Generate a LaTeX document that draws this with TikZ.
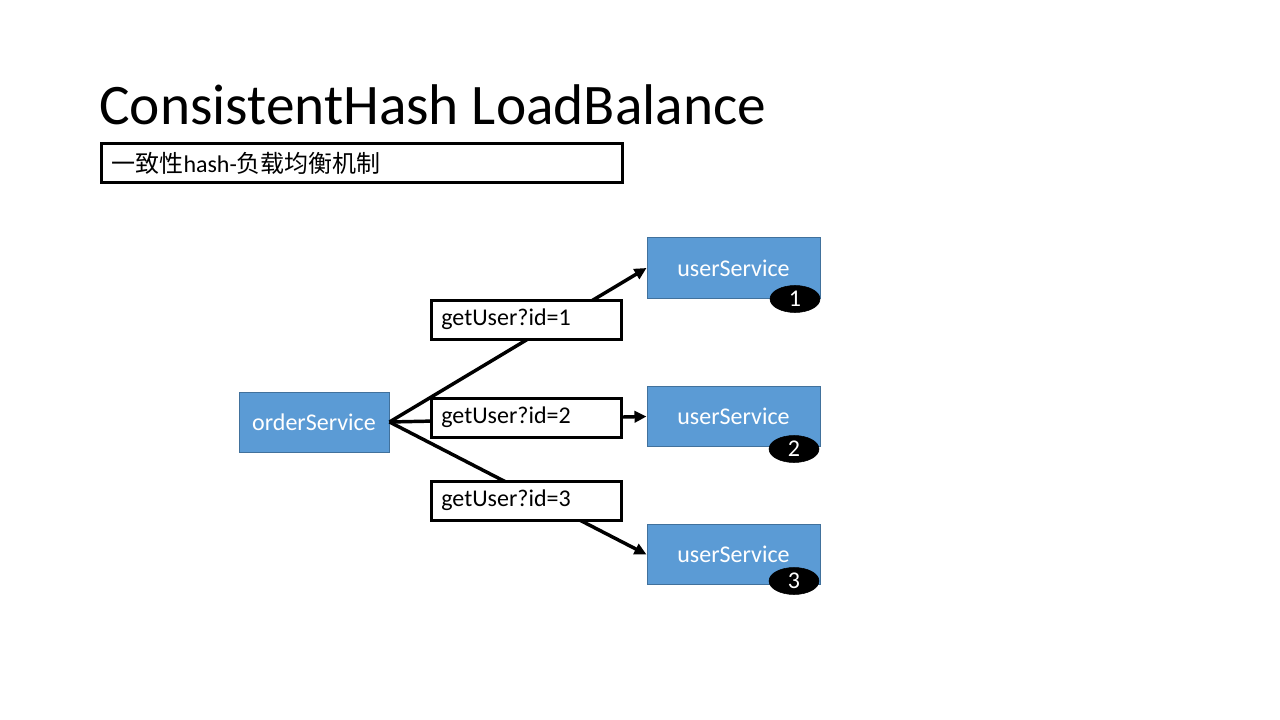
\documentclass[tikz,border=0pt]{standalone}
\usepackage{fontspec}
\setmainfont{Carlito}
\newfontfamily\cjk{Noto Sans CJK SC}
\usetikzlibrary{arrows.meta,shapes.geometric}
\definecolor{svcblue}{HTML}{5B9BD5}
\definecolor{svcedge}{HTML}{41719C}
\begin{document}
\begin{tikzpicture}[x=0.75pt,y=-0.75pt,
  svc/.style={draw=svcedge,line width=0.75pt,fill=svcblue,text=white,font=\fontsize{18}{21}\selectfont,minimum height=45pt,inner sep=0pt},
  badge/.style={ellipse,fill=black,draw=black,text=white,minimum width=37.5pt,minimum height=20.25pt,inner sep=0pt,font=\fontsize{18}{21}\selectfont},
  lbl/.style={draw=black,line width=2.25pt,fill=white,minimum width=142.5pt,minimum height=29.25pt,text width=127pt,align=left,inner xsep=6pt,inner ysep=0pt,font=\fontsize{18}{21}\selectfont},
  conn/.style={line width=2.6pt,-{Triangle[length=9pt,width=8.5pt]}}]
\useasboundingbox (0,0) rectangle (1280,720);
\fill[white] (0,0) rectangle (1280,720);

\node[anchor=base west,inner sep=0pt,font=\fontsize{43}{50}\selectfont] (title) at (99,125) {ConsistentHash LoadBalance};
\node[draw=black,line width=2.25pt,minimum width=390.75pt,minimum height=29.25pt,text width=375pt,align=left,inner xsep=7.5pt,inner ysep=0pt,font=\fontsize{18}{21}\selectfont] (sub) at (361.5,163.5) {{\cjk 一致性}hash-{\cjk 负载均衡机制}};

\node[svc,minimum width=112.5pt] (order) at (314,422) {orderService};
\node[svc,minimum width=129.75pt] (u1) at (733.5,268) {userService};
\node[svc,minimum width=129.75pt] (u2) at (733.5,416.5) {userService};
\node[svc,minimum width=129.75pt] (u3) at (733.5,554.5) {userService};

\node[badge] (b1) at (795,299) {\raisebox{-1pt}{1}};
\node[badge] (b2) at (794,449) {\raisebox{-1pt}{2}};
\node[badge] (b3) at (794,581) {\raisebox{-1pt}{3}};

\draw[conn] (order.east) -- (u1.west);
\draw[conn] (order.east) -- (u2.west);
\draw[conn] (order.east) -- (u3.west);

\node[lbl] (l1) at (526,319.5) {getUser?id=1};
\node[lbl] (l2) at (526,417.5) {getUser?id=2};
\node[lbl] (l3) at (526,500.5) {getUser?id=3};
\end{tikzpicture}
\end{document}
